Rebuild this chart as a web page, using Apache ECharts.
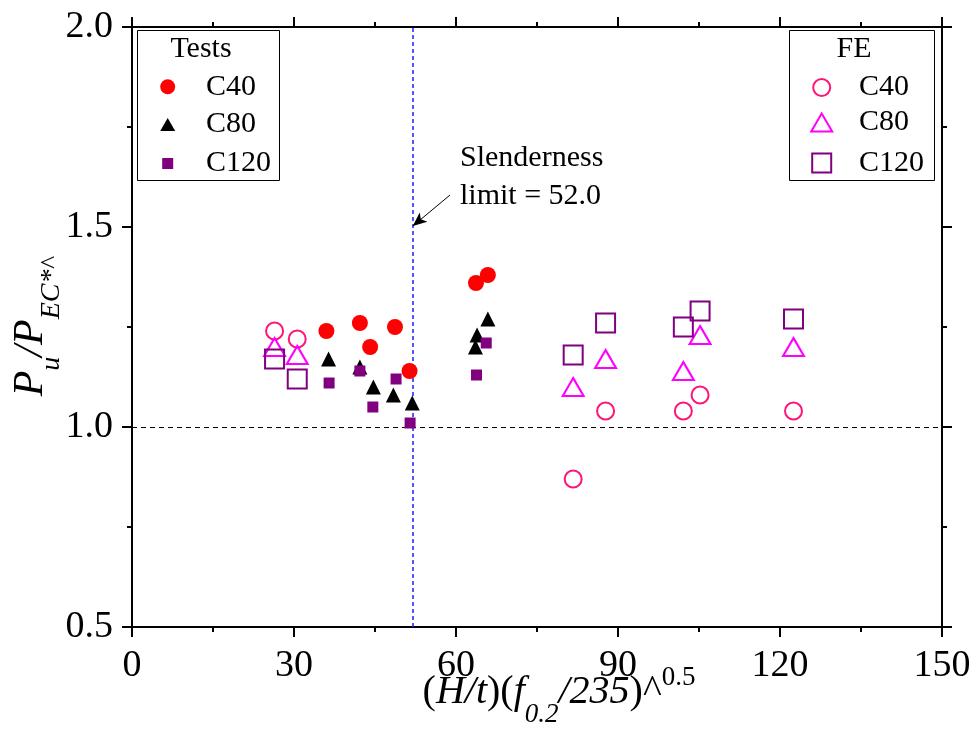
<!DOCTYPE html>
<html>
<head>
<meta charset="utf-8">
<script src="https://cdn.jsdelivr.net/npm/echarts@6/dist/echarts.min.js"></script>
<style>
html, body { margin: 0; padding: 0; background: #fff; }
#main { width: 978px; height: 740px; }
</style>
</head>
<body>
<div id="main"></div>
<script>
var serif = '"Liberation Serif", "Times New Roman", serif';

// axis ranges
var xMin = 0, xMax = 150, xStep = 30;
var yMin = 0.5, yMax = 2.0, yStep = 0.5;

// tests
var testC40X = [36.0, 42.2, 44.1, 48.7, 51.4, 63.7, 65.9];
var testC40Y = [1.24, 1.26, 1.20, 1.25, 1.14, 1.36, 1.38];
var testC80X = [36.4, 42.2, 44.7, 48.4, 51.9, 63.6, 63.9, 65.9];
var testC80Y = [1.17, 1.15, 1.10, 1.08, 1.06, 1.20, 1.23, 1.27];
var testC120X = [36.5, 42.2, 44.6, 48.9, 51.5, 63.8, 65.6];
var testC120Y = [1.11, 1.14, 1.05, 1.12, 1.01, 1.13, 1.21];

// FE (same slenderness for all grades)
var feX = [26.4, 30.6, 81.7, 87.7, 102.1, 105.2, 122.5];
var feC40Y = [1.24, 1.22, 0.87, 1.04, 1.04, 1.08, 1.04];
var feC80Y = [1.20, 1.18, 1.10, 1.17, 1.14, 1.23, 1.20];
var feC120Y = [1.17, 1.12, 1.18, 1.26, 1.25, 1.29, 1.27];

// slenderness limit + arrow
var slenderLimit = 52.0;
var refLine = 1.0;
var arrowFrom = [58.9, 1.58];
var arrowTo = [52.0, 1.5025];

function zip(xs, ys) {
  var out = [];
  for (var i = 0; i < xs.length; i++) out.push([xs[i], ys[i]]);
  return out;
}

function hollow(c) {
  return { color: 'rgba(0,0,0,0)', borderColor: c, borderWidth: 2, opacity: 1 };
}

function solid(c) {
  return { color: c, borderWidth: 0, opacity: 1 };
}

// one legend per entry so each icon keeps its own size
function legendAt(name, cx, cy, w, h, textX, style) {
  return {
    data: [name],
    selectedMode: false,
    orient: 'vertical',
    left: cx - w / 2,
    top: cy - 15,
    padding: 0,
    itemWidth: w,
    itemHeight: h,
    symbolKeepAspect: false,
    itemStyle: style,
    formatter: function (n) { return n.split(' ')[1]; },
    textStyle: {
      fontFamily: serif, fontSize: 30, color: '#000', lineHeight: 30,
      padding: [0, 0, 0, textX - (cx + w / 2) - 5]
    }
  };
}

var axisLineStyle = { color: '#000', width: 2 };

function xAxisOf(pos, show) {
  return {
    type: 'value', position: pos, min: xMin, max: xMax, interval: xStep,
    axisLine: { show: true, onZero: false, lineStyle: axisLineStyle },
    axisTick: { show: true, inside: false, length: 10, lineStyle: axisLineStyle },
    minorTick: { show: true, splitNumber: 2, length: 5, lineStyle: axisLineStyle },
    splitLine: { show: false },
    axisLabel: { show: show, margin: 20, fontFamily: serif, fontSize: 38, color: '#000' }
  };
}

function yAxisOf(pos, show) {
  return {
    type: 'value', position: pos, min: yMin, max: yMax, interval: yStep,
    axisLine: { show: true, onZero: false, lineStyle: axisLineStyle },
    axisTick: { show: true, inside: false, length: 10, lineStyle: axisLineStyle },
    minorTick: { show: true, splitNumber: 2, length: 5, lineStyle: axisLineStyle },
    splitLine: { show: false },
    axisLabel: {
      show: show, margin: 19, fontFamily: serif, fontSize: 38, color: '#000',
      formatter: function (v) { return v.toFixed(1); }
    }
  };
}

var xBottom = xAxisOf('bottom', true);
xBottom.name = '{n|(}{i|H/t}{n|)(}{i|f}{s|0.2}{i|/235}{n|)^}{p|0.5}';
xBottom.nameLocation = 'middle';
xBottom.nameGap = 37;
xBottom.nameMoveOverlap = false;
xBottom.nameTextStyle = {
  color: '#000',
  padding: [0, 0, 0, 44],
  rich: {
    n: { fontFamily: serif, fontSize: 40, lineHeight: 40, verticalAlign: 'top', padding: [8, 0, 0, 0], color: '#000' },
    i: { fontFamily: serif, fontSize: 40, lineHeight: 40, fontStyle: 'italic', verticalAlign: 'top', padding: [8, 0, 0, 0], color: '#000' },
    s: { fontFamily: serif, fontSize: 27, lineHeight: 27, fontStyle: 'italic', verticalAlign: 'top', padding: [37, 0, 0, 0], color: '#000' },
    p: { fontFamily: serif, fontSize: 27, lineHeight: 27, verticalAlign: 'top', padding: [0, 0, 0, 0], color: '#000' }
  }
};

var yLeft = yAxisOf('left', true);
yLeft.name = '{i|P}{s|u}{i|/P}{s|EC*^}';
yLeft.nameLocation = 'middle';
yLeft.nameRotate = 90;
yLeft.nameGap = 80;
yLeft.nameMoveOverlap = false;
yLeft.nameTextStyle = {
  color: '#000',
  padding: [0, 0, 0, 0],
  rich: {
    i: { fontFamily: serif, fontSize: 42, lineHeight: 42, fontStyle: 'italic', verticalAlign: 'top', color: '#000' },
    s: { fontFamily: serif, fontSize: 28, lineHeight: 28, fontStyle: 'italic', verticalAlign: 'top', padding: [28, 0, 0, 0], color: '#000' }
  }
};

var option = {
  backgroundColor: '#fff',
  animation: false,
  grid: { left: 132, right: 36, top: 27, bottom: 113, containLabel: false, outerBoundsMode: 'none' },
  xAxis: [xBottom, xAxisOf('top', false)],
  yAxis: [yLeft, yAxisOf('right', false)],
  legend: [
    legendAt('Tests C40', 167.7, 86.7, 15, 15, 206, solid('#ff0000')),
    legendAt('Tests C80', 167.7, 124.5, 15, 13, 206, solid('#000000')),
    legendAt('Tests C120', 167.7, 163.5, 11, 11, 206, solid('#800080')),
    legendAt('FE C40', 820.7, 87.5, 17, 17, 858, hollow('#ff1478')),
    legendAt('FE C80', 820.7, 122.5, 21, 18, 858, hollow('#ff00ff')),
    legendAt('FE C120', 820.7, 163, 19, 19, 858, hollow('#800080'))
  ],
  series: [
    {
      name: 'FE C40', type: 'scatter', symbol: 'circle', symbolSize: 17,
      itemStyle: hollow('#ff1478'), emphasis: { disabled: true },
      data: zip(feX, feC40Y),
      markLine: {
        silent: true, animation: false, symbol: 'none', z: 1,
        label: { show: false },
        data: [{
          xAxis: slenderLimit,
          lineStyle: { color: '#1f1fff', width: 1.5, type: [4, 3], opacity: 1 }
        }]
      }
    },
    {
      name: 'FE C80', type: 'scatter', symbol: 'triangle', symbolSize: [21, 18],
      itemStyle: hollow('#ff00ff'), emphasis: { disabled: true },
      data: zip(feX, feC80Y),
      markLine: {
        silent: true, animation: false, symbol: 'none', z: 1,
        label: { show: false },
        lineStyle: { color: '#000000', width: 1, type: [5, 4], opacity: 1 },
        data: [{ yAxis: refLine }]
      }
    },
    {
      name: 'FE C120', type: 'scatter', symbol: 'rect', symbolSize: 19,
      itemStyle: hollow('#800080'), emphasis: { disabled: true },
      data: zip(feX, feC120Y),
      markLine: {
        silent: true, animation: false, z: 1,
        label: { show: false },
        lineStyle: { color: '#000000', width: 1, type: 'solid', opacity: 1 },
        data: [[
          { coord: arrowFrom, symbol: 'none' },
          { coord: arrowTo, symbol: 'arrow', symbolSize: [9, 14] }
        ]]
      }
    },
    {
      name: 'Tests C40', type: 'scatter', symbol: 'circle', symbolSize: 16, z: 3,
      itemStyle: solid('#ff0000'), emphasis: { disabled: true },
      data: zip(testC40X, testC40Y)
    },
    {
      name: 'Tests C80', type: 'scatter', symbol: 'triangle', symbolSize: 15, z: 3,
      itemStyle: solid('#000000'), emphasis: { disabled: true },
      data: zip(testC80X, testC80Y)
    },
    {
      name: 'Tests C120', type: 'scatter', symbol: 'rect', symbolSize: 11, z: 3,
      itemStyle: solid('#800080'), emphasis: { disabled: true },
      data: zip(testC120X, testC120Y)
    }
  ],
  graphic: [
    { type: 'rect', z: 10, shape: { x: 137.5, y: 30.5, width: 142, height: 150 }, style: { fill: 'none', stroke: '#000', lineWidth: 1 } },
    { type: 'rect', z: 10, shape: { x: 789.5, y: 30.5, width: 145, height: 150 }, style: { fill: 'none', stroke: '#000', lineWidth: 1 } },
    { type: 'text', z: 10, style: { x: 201, y: 49, text: 'Tests', fontFamily: serif, fontSize: 30, fill: '#000', textAlign: 'center', textVerticalAlign: 'middle' } },
    { type: 'text', z: 10, style: { x: 854, y: 49, text: 'FE', fontFamily: serif, fontSize: 30, fill: '#000', textAlign: 'center', textVerticalAlign: 'middle' } },
    { type: 'text', z: 10, style: { x: 460, y: 139, text: 'Slenderness\nlimit = ' + slenderLimit.toFixed(1), fontFamily: serif, fontSize: 30, lineHeight: 38, fill: '#000', textAlign: 'left', textVerticalAlign: 'top' } }
  ]
};

var chart = echarts.init(document.getElementById('main'), null, { renderer: 'canvas' });
chart.setOption(option);
</script>
</body>
</html>
